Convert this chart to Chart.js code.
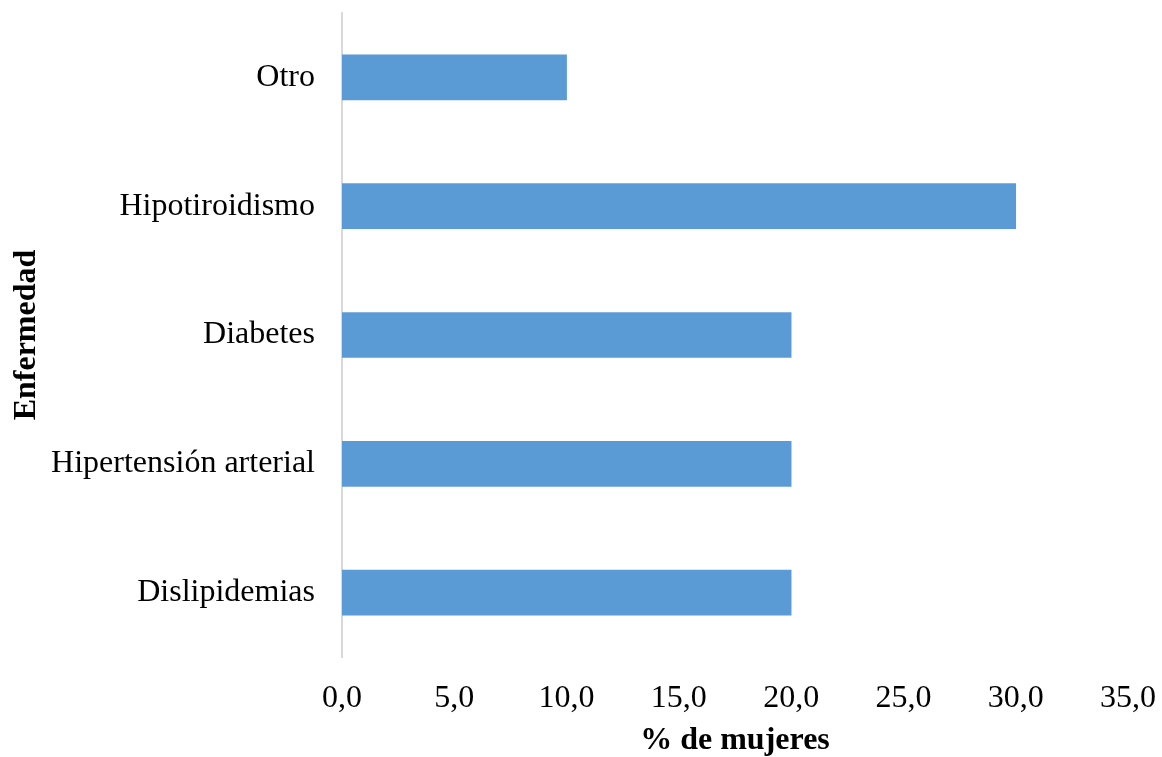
<!DOCTYPE html>
<html>
<head>
<meta charset="utf-8">
<script src="https://cdn.jsdelivr.net/npm/chart.js@4.4.1/dist/chart.umd.min.js"></script>
<style>
  html, body { margin: 0; padding: 0; background: #ffffff; }
  #wrap { width: 1162px; height: 757px; position: relative; }
</style>
</head>
<body>
<div id="wrap"><canvas id="chart" width="1162" height="757"></canvas></div>
<script>
// Disease categories and share of women (%)
const categories = ['Otro', 'Hipotiroidismo', 'Diabetes', 'Hipertensión arterial', 'Dislipidemias'];
const percentWomen = [10, 30, 20, 20, 20];
const xTicks = [0, 5, 10, 15, 20, 25, 30, 35];

const serif = "'Liberation Serif', 'Times New Roman', serif";
const fmt = v => Number(v).toFixed(1).replace('.', ',');

new Chart(document.getElementById('chart'), {
  type: 'bar',
  data: {
    labels: categories,
    datasets: [{
      data: percentWomen,
      backgroundColor: '#5B9BD5',
      borderWidth: 0,
      barThickness: 45
    }]
  },
  options: {
    indexAxis: 'y',
    responsive: false,
    animation: false,
    layout: { padding: { top: 13, right: 34, bottom: 0, left: 0 } },
    plugins: { legend: { display: false }, tooltip: { enabled: false } },
    scales: {
      x: {
        min: 0,
        max: 35,
        afterBuildTicks: axis => { axis.ticks = xTicks.map(v => ({ value: v })); },
        grid: { display: false, drawTicks: false },
        border: { display: false },
        ticks: {
          padding: 22,
          maxRotation: 0,
          color: '#000000',
          font: { family: serif, size: 32 },
          callback: v => fmt(v)
        },
        title: {
          display: true,
          text: '% de mujeres',
          color: '#000000',
          font: { family: serif, size: 32, weight: 'bold' },
          padding: { top: 0, bottom: -3 }
        },
        afterFit: axis => {
          axis.height = 100;
          axis.paddingLeft = 0;
          axis.paddingRight = 0;
        }
      },
      y: {
        grid: { display: false, drawTicks: false },
        border: { display: true, color: '#D9D9D9', width: 2 },
        ticks: {
          padding: 27,
          color: '#000000',
          font: { family: serif, size: 32 }
        },
        title: {
          display: true,
          text: 'Enfermedad',
          color: '#000000',
          font: { family: serif, size: 32, weight: 'bold' },
          padding: { top: 8, bottom: 0 }
        },
        afterFit: axis => {
          axis.width = 342;
          axis.paddingTop = 0;
          axis.paddingBottom = 0;
        }
      }
    }
  }
});
</script>
</body>
</html>
